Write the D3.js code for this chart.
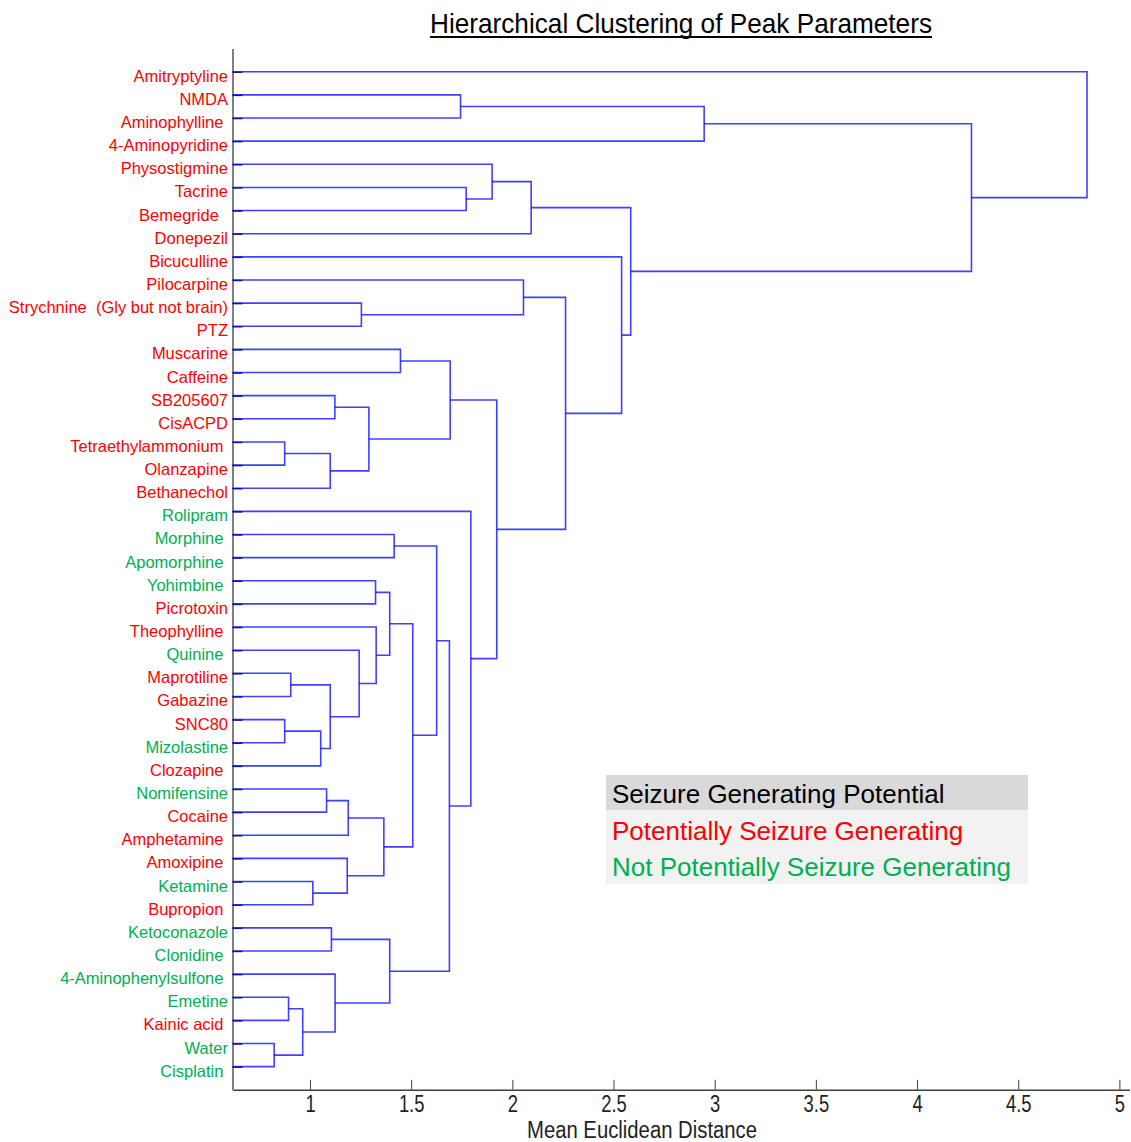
<!DOCTYPE html>
<html>
<head>
<meta charset="utf-8">
<script src="https://d3js.org/d3.v7.min.js"></script>
<style>
  body { margin: 0; background: #fff; }
  svg text { font-family: "Liberation Sans", Arial, sans-serif; }
</style>
</head>
<body>
<svg id="chart" width="1131" height="1142"></svg>
<script>
// leaf labels, top to bottom (trailing spaces are in the original labels)
var leaves = [
  "Amitryptyline", "NMDA", "Aminophylline ", "4-Aminopyridine", "Physostigmine",
  "Tacrine", "Bemegride  ", "Donepezil", "Bicuculline", "Pilocarpine",
  "Strychnine  (Gly but not brain)", "PTZ", "Muscarine", "Caffeine", "SB205607",
  "CisACPD", "Tetraethylammonium ", "Olanzapine", "Bethanechol", "Rolipram",
  "Morphine ", "Apomorphine ", "Yohimbine ", "Picrotoxin", "Theophylline ",
  "Quinine ", "Maprotiline", "Gabazine", "SNC80", "Mizolastine",
  "Clozapine ", "Nomifensine", "Cocaine", "Amphetamine ", "Amoxipine ",
  "Ketamine", "Bupropion ", "Ketoconazole", "Clonidine ", "4-Aminophenylsulfone ",
  "Emetine", "Kainic acid ", "Water", "Cisplatin "
];

// 1 = potentially seizure generating, 0 = not
var seizure = [
  1, 1, 1, 1, 1, 1, 1, 1, 1, 1, 1, 1, 1, 1, 1, 1, 1, 1, 1, 0,
  0, 0, 0, 1, 1, 0, 1, 1, 1, 0, 1, 0, 1, 1, 1, 0, 1, 0, 0, 0,
  0, 1, 0, 0
];

// linkage: [left, right, distance]; a string is a leaf, a number is an earlier row
var merges = [
  ["Water", "Cisplatin", 0.823],
  ["Tetraethylammonium", "Olanzapine", 0.875],
  ["SNC80", "Mizolastine", 0.875],
  ["Emetine", "Kainic acid", 0.894],
  ["Maprotiline", "Gabazine", 0.905],
  [3, 0, 0.964],
  ["Ketamine", "Bupropion", 1.014],
  [2, "Clozapine", 1.053],
  ["Nomifensine", "Cocaine", 1.082],
  [1, "Bethanechol", 1.100],
  [4, 7, 1.100],
  ["Ketoconazole", "Clonidine", 1.106],
  ["SB205607", "CisACPD", 1.123],
  ["4-Aminophenylsulfone", 5, 1.124],
  ["Amoxipine", 6, 1.184],
  [8, "Amphetamine", 1.189],
  ["Quinine", 10, 1.243],
  ["Strychnine  (Gly but not brain)", "PTZ", 1.254],
  [12, 9, 1.291],
  ["Yohimbine", "Picrotoxin", 1.324],
  ["Theophylline", 16, 1.327],
  [15, 14, 1.365],
  [19, 20, 1.394],
  [11, 13, 1.394],
  ["Morphine", "Apomorphine", 1.416],
  ["Muscarine", "Caffeine", 1.447],
  [22, 21, 1.508],
  [24, 26, 1.626],
  [27, 23, 1.689],
  [25, 18, 1.693],
  ["NMDA", "Aminophylline", 1.744],
  ["Tacrine", "Bemegride", 1.772],
  ["Rolipram", 28, 1.795],
  ["Physostigmine", 31, 1.900],
  [29, 32, 1.923],
  ["Pilocarpine", 17, 2.055],
  [33, "Donepezil", 2.093],
  [35, 34, 2.263],
  ["Bicuculline", 37, 2.540],
  [36, 38, 2.585],
  [30, "4-Aminopyridine", 2.948],
  [40, 39, 4.269],
  ["Amitryptyline", 41, 4.840]
];

var xTicks = [1, 1.5, 2, 2.5, 3, 3.5, 4, 4.5, 5];
var legendItems = [
  "Seizure Generating Potential",
  "Potentially Seizure Generating",
  "Not Potentially Seizure Generating"
];

var RED = "#ff0000";
var GREEN = "#00b050";

var svg = d3.select("#chart");

var x = d3.scaleLinear().domain([0.617, 5.05]).range([232.5, 1129.5]);
var y = d3.scaleLinear().domain([0, leaves.length + 1]).range([48.6, 1089.8]);

// positions of leaves and merged clusters
var leafIndex = {};
leaves.forEach(function (name, i) { leafIndex[name.trim()] = i; });

var nodes = [];
function node(ref) {
  if (typeof ref === "number") { return nodes[ref]; }
  return { h: 0, pos: leafIndex[ref] + 1 };
}
merges.forEach(function (m) {
  var a = node(m[0]);
  var b = node(m[1]);
  nodes.push({ h: m[2], pos: (a.pos + b.pos) / 2, left: a, right: b });
});

// clip to the plot area so leaf lines start at the axis
svg.append("clipPath")
  .attr("id", "plotClip")
  .append("rect")
  .attr("x", x.range()[0])
  .attr("y", 0)
  .attr("width", x.range()[1] - x.range()[0])
  .attr("height", 1142);

// axes
var xAxis = d3.axisBottom(x)
  .tickValues(xTicks)
  .tickSize(-10)
  .tickSizeOuter(0)
  .tickPadding(6)
  .tickFormat(function (d) { return d; });

var gx = svg.append("g")
  .attr("transform", "translate(0," + y.range()[1] + ")")
  .call(xAxis);
gx.select(".domain").attr("stroke", "#404040").attr("stroke-width", 1.5);
gx.selectAll(".tick line").attr("stroke", "#404040");
gx.selectAll(".tick text")
  .attr("fill", "#222")
  .style("font-size", "23px")
  .attr("transform", "scale(0.8,1)");

var yAxis = d3.axisLeft(y)
  .tickValues(d3.range(1, leaves.length + 1))
  .tickSize(-10)
  .tickSizeOuter(0)
  .tickFormat("");

var gy = svg.append("g")
  .attr("transform", "translate(" + x.range()[0] + ",0)")
  .call(yAxis);
gy.select(".domain").attr("stroke", "#808080").attr("stroke-width", 2);
gy.selectAll(".tick line").attr("stroke", "#202060").attr("stroke-width", 1.5);

// dendrogram links
svg.append("g")
  .attr("clip-path", "url(#plotClip)")
  .selectAll("path")
  .data(nodes)
  .enter()
  .append("path")
  .attr("fill", "none")
  .attr("stroke", "#0000ff")
  .attr("stroke-opacity", 0.75)
  .attr("stroke-width", 1.6)
  .attr("d", function (d) {
    return "M" + x(d.left.h) + "," + y(d.left.pos) +
      "H" + x(d.h) +
      "V" + y(d.right.pos) +
      "H" + x(d.right.h);
  });

// leaf labels
svg.append("g")
  .selectAll("text")
  .data(leaves)
  .enter()
  .append("text")
  .attr("x", 228)
  .attr("y", function (d, i) { return y(i + 1) + 10; })
  .attr("text-anchor", "end")
  .style("white-space", "pre")
  .style("font-size", "16.5px")
  .attr("fill", function (d, i) { return seizure[i] ? RED : GREEN; })
  .text(function (d) { return d; });

// title
svg.append("text")
  .attr("x", 430)
  .attr("y", 33)
  .attr("textLength", 502)
  .attr("lengthAdjust", "spacingAndGlyphs")
  .style("font-size", "28px")
  .attr("fill", "#000")
  .text("Hierarchical Clustering of Peak Parameters");
svg.append("line")
  .attr("x1", 430).attr("x2", 932)
  .attr("y1", 37).attr("y2", 37)
  .attr("stroke", "#000")
  .attr("stroke-width", 2);

// x axis label
svg.append("text")
  .attr("x", 527)
  .attr("y", 1138)
  .attr("textLength", 230)
  .attr("lengthAdjust", "spacingAndGlyphs")
  .style("font-size", "23px")
  .attr("fill", "#222")
  .text("Mean Euclidean Distance");

// legend
var legend = svg.append("g").attr("transform", "translate(606,775)");
legend.append("rect")
  .attr("width", 422).attr("height", 35)
  .attr("fill", "#d9d9d9");
legend.append("rect")
  .attr("y", 35)
  .attr("width", 422).attr("height", 74)
  .attr("fill", "#f2f2f2");
legend.selectAll("text.item")
  .data(legendItems)
  .enter()
  .append("text")
  .attr("class", "item")
  .attr("x", 6)
  .attr("y", function (d, i) { return 28 + i * 36.5; })
  .style("font-size", "26px")
  .attr("fill", function (d, i) { return [ "#000", RED, GREEN ][i]; })
  .text(function (d) { return d; });
</script>
</body>
</html>
